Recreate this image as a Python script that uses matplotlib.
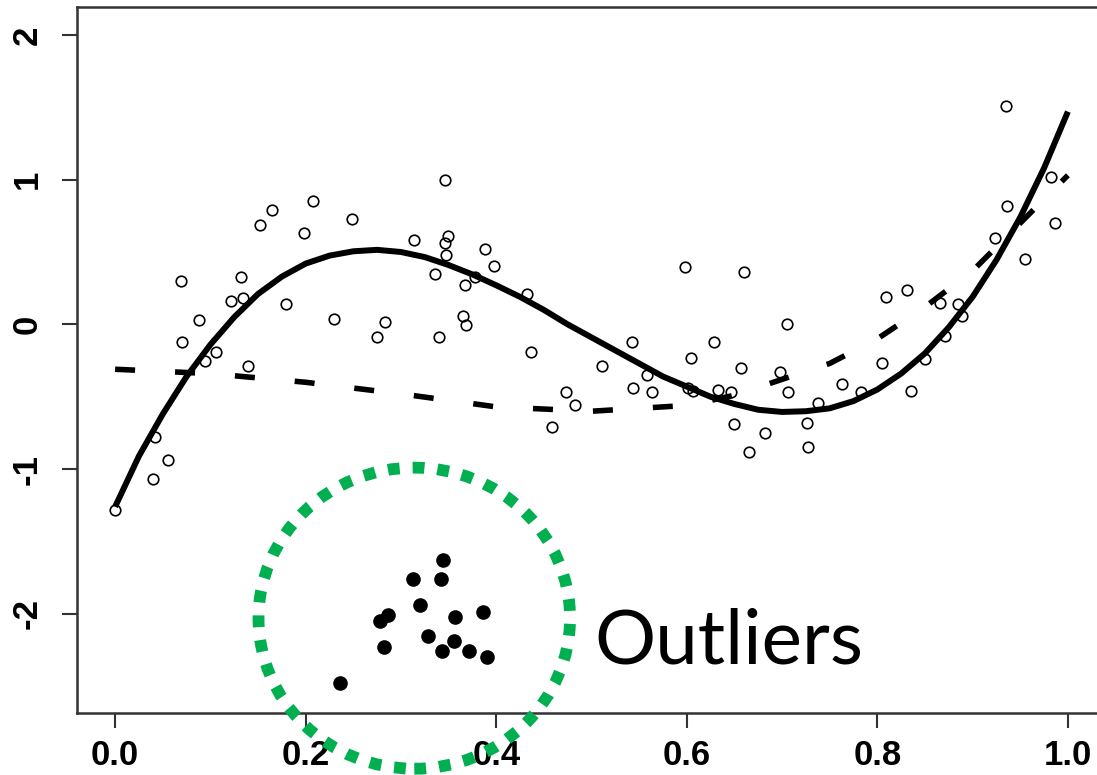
import numpy as np
import matplotlib
matplotlib.use("Agg")
import matplotlib.pyplot as plt
from matplotlib.patches import Ellipse

# observed points (open circles)
obs_x = [0.000, 0.040, 0.042, 0.055, 0.069, 0.070, 0.088, 0.094, 0.106, 0.122,
         0.132, 0.134, 0.139, 0.152, 0.165, 0.179, 0.198, 0.208, 0.230, 0.249,
         0.275, 0.283, 0.314, 0.336, 0.340, 0.346, 0.346, 0.347, 0.349, 0.365,
         0.367, 0.368, 0.378, 0.388, 0.398, 0.432, 0.437, 0.459, 0.473, 0.483,
         0.511, 0.543, 0.544, 0.558, 0.564, 0.598, 0.601, 0.604, 0.607, 0.629,
         0.633, 0.646, 0.650, 0.657, 0.660, 0.665, 0.682, 0.698, 0.705, 0.706,
         0.726, 0.727, 0.738, 0.763, 0.783, 0.805, 0.809, 0.831, 0.835, 0.850,
         0.866, 0.871, 0.885, 0.889, 0.923, 0.935, 0.936, 0.955, 0.982, 0.986]
obs_y = [-1.28, -1.07, -0.78, -0.94, 0.30, -0.12, 0.03, -0.25, -0.19, 0.16,
         0.33, 0.18, -0.29, 0.685, 0.79, 0.14, 0.63, 0.85, 0.035, 0.73,
         -0.09, 0.015, 0.58, 0.35, -0.085, 1.00, 0.56, 0.48, 0.61, 0.055,
         0.27, -0.005, 0.33, 0.52, 0.40, 0.21, -0.19, -0.71, -0.47, -0.56,
         -0.29, -0.12, -0.44, -0.35, -0.47, 0.395, -0.44, -0.23, -0.46, -0.12,
         -0.45, -0.47, -0.685, -0.30, 0.36, -0.88, -0.75, -0.33, 0.00, -0.47,
         -0.68, -0.85, -0.54, -0.41, -0.47, -0.27, 0.19, 0.235, -0.46, -0.24,
         0.145, -0.08, 0.14, 0.06, 0.60, 1.51, 0.82, 0.455, 1.02, 0.70]

# outliers (filled)
out_x = [0.344, 0.313, 0.342, 0.320, 0.286, 0.278, 0.357, 0.386, 0.328, 0.282,
         0.356, 0.343, 0.371, 0.390, 0.236]
out_y = [-1.63, -1.76, -1.76, -1.94, -2.01, -2.05, -2.02, -1.99, -2.15, -2.23,
         -2.19, -2.26, -2.26, -2.30, -2.48]

# solid fit
fit_x = [0.000, 0.025, 0.050, 0.075, 0.100, 0.125, 0.150, 0.175, 0.200, 0.225,
         0.250, 0.275, 0.300, 0.325, 0.350, 0.375, 0.400, 0.425, 0.450, 0.475,
         0.500, 0.525, 0.550, 0.575, 0.600, 0.625, 0.650, 0.675, 0.700, 0.725,
         0.750, 0.775, 0.800, 0.825, 0.850, 0.875, 0.900, 0.925, 0.950, 0.975, 1.000]
fit_y = [-1.26, -0.91, -0.62, -0.36, -0.14, 0.05, 0.21, 0.33, 0.42, 0.475,
         0.505, 0.515, 0.50, 0.465, 0.41, 0.345, 0.27, 0.19, 0.10, 0.00,
         -0.09, -0.18, -0.27, -0.36, -0.43, -0.50, -0.55, -0.59, -0.605, -0.60,
         -0.58, -0.53, -0.45, -0.34, -0.20, -0.02, 0.19, 0.445, 0.74, 1.08, 1.47]

# dashed fit
dash_x = [0.00, 0.10, 0.20, 0.30, 0.40, 0.50, 0.60, 0.65, 0.70, 0.75,
          0.80, 0.85, 0.90, 0.95, 1.00]
dash_y = [-0.31, -0.34, -0.40, -0.48, -0.57, -0.60, -0.56, -0.49, -0.38, -0.27,
          -0.10, 0.12, 0.37, 0.70, 1.03]

xticks = [0.0, 0.2, 0.4, 0.6, 0.8, 1.0]
yticks = [-2, -1, 0, 1, 2]

fig = plt.figure(figsize=(10.97, 7.75), dpi=100)
ax = fig.add_axes([77 / 1097, 62 / 775, 1029 / 1097, 705.6 / 775])

ax.plot(obs_x, obs_y, "o", mfc="none", mec="black", ms=7.6, mew=1.2, zorder=3)
ax.plot(out_x, out_y, "o", color="black", ms=9.5, zorder=3)
ax.plot(fit_x, fit_y, "-", color="black", lw=4.3, solid_capstyle="butt", zorder=4)
ax.plot(dash_x, dash_y, color="black", lw=4, dashes=(3.6, 7.2),
        dash_capstyle="butt", zorder=4)

# green dotted circle around outliers
circ = Ellipse((0.314, -2.03), 0.327, 2.08, fill=False, edgecolor="#00B050",
               lw=8.5, ls=(0, (1, 1.1)), clip_on=False, zorder=5)
ax.add_patch(circ)

ax.text(0.503, -2.34, "Outliers", fontsize=55, family="Lato",
        ha="left", va="baseline", zorder=6)

ax.set_xlim(-0.04, 1.04)
ax.set_ylim(-2.685, 2.19)
ax.set_xticks(xticks)
ax.set_xticklabels([f"{v:.1f}" for v in xticks])
ax.set_yticks(yticks)
ax.set_yticklabels([str(v) for v in yticks], rotation=90, va="center")

for lab in ax.get_xticklabels() + ax.get_yticklabels():
    lab.set_fontfamily("Liberation Sans")
    lab.set_fontweight("bold")
    lab.set_fontsize(25)

ax.tick_params(axis="both", direction="out", length=11, width=1.5, color="#333333")
ax.tick_params(axis="x", pad=8)
ax.tick_params(axis="y", pad=13)
for s in ax.spines.values():
    s.set_linewidth(1.8)
    s.set_color("#333333")

fig.savefig("out.png", dpi=100)
